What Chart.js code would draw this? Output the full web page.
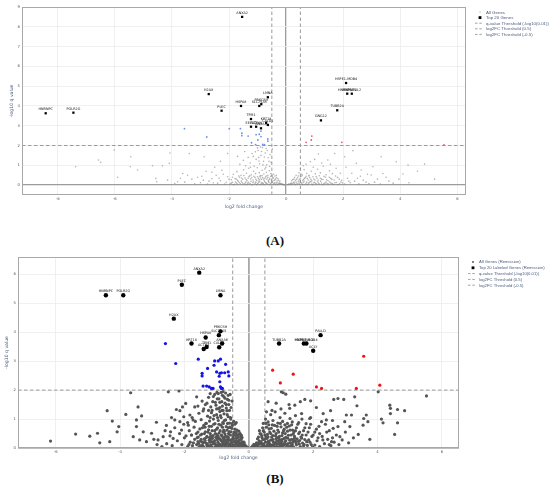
<!DOCTYPE html>
<html>
<head>
<meta charset="utf-8">
<script src="https://cdn.jsdelivr.net/npm/chart.js@4.4.1/dist/chart.umd.min.js"></script>
<style>
  body { margin: 0; background: #fff; width: 550px; height: 493px; position: relative; overflow: hidden; }
  .wrap { position: absolute; left: 0; width: 550px; height: 216px; }
  .tag { position: absolute; left: 0; width: 550px; text-align: center; font: bold 13px "Liberation Serif", serif; color: #111; }
</style>
</head>
<body>
<div class="wrap" style="top:0"><canvas id="chartA" width="550" height="216"></canvas></div>
<div class="tag" style="top:233px">(A)</div>
<div class="wrap" style="top:250px"><canvas id="chartB" width="550" height="216"></canvas></div>
<div class="tag" style="top:471px">(B)</div>
<script>
// ---- thresholds ----
const qThreshold = 2;      // -log10(0.01)
const fcThreshold = 0.5;

// ---- panel A ----
const xRangeA = [-9.25, 6.3];
const yRangeA = [-0.5, 9];
const xTicksA = [-8, -6, -4, -2, 0, 2, 4, 6];
const yTicksA = [0, 1, 2, 3, 4, 5, 6, 7, 8, 9];

const topGenesA = ["ANXA2", "HNRNPC", "POLR2G", "H2AX", "PLEC", "HSPA8", "LMNA", "PRKCSH", "SLC25A5", "TPM1",
  "EEF1D", "ACTN4", "ANXA6", "KRT18", "CALD1", "HSPE1-MOB4", "HNRNPUL1", "HNRNPUL2", "TUBB2A", "GNG12"];
const topFcA = [-1.54, -8.42, -7.45, -2.71, -2.26, -1.58, -0.64, -0.87, -0.94, -1.23,
  -1.23, -1.05, -0.88, -0.7, -0.64, 2.1, 2.14, 2.3, 1.79, 1.22];
const topQA = [8.5, 3.63, 3.66, 4.6, 3.76, 4.0, 4.44, 4.09, 4.0, 3.34,
  2.95, 2.95, 2.87, 3.15, 3.04, 5.16, 4.62, 4.62, 3.78, 3.27];

const downA = [[-3.56,2.85],[-2.78,2.43],[-1.99,2.85],[-1.6,2.85],[-1.55,2.62],[-1.55,2.5],[-1.33,2.48],[-1.21,2.14],
  [-1.07,2.05],[-1.05,2.55],[-0.94,2.57],[-0.99,2.28],[-0.88,2.73],[-0.82,2.06],[-0.76,2.04],[-0.64,2.33],[-0.64,2.22],[-0.88,2.45]];
const upA = [[0.7,2.16],[0.9,2.48],[0.88,2.28],[1.95,2.16],[5.53,2.03]];

// background genes, sparse outer points
const allA = [
  [-6.57,1.27],[-6.49,1.15],[-7.37,0.93],[-5.44,1.43],[-5.46,0.93],[-5.2,0.76],[-4.68,0.98],[-4.33,0.98],[-4.09,1.1],[-3.62,0.59],
  [-3.39,1.6],[-2.87,1.43],[-4.53,0.17],[-4.56,0.34],[-4.15,0.25],[-3.8,0.17],[-6.02,1.77],[-4.07,1.62],[-5.9,0.4],[-3.3,0.3],
  [-3.0,0.12],[-2.95,0.45],[-2.7,0.2],[-2.6,0.65],[-2.5,0.9],[-2.4,0.1],[-2.35,0.35],[-2.3,1.2],[-2.2,0.55],[-2.15,0.05],[-2.05,1.6],[-2.0,0.3],
  [1.13,1.57],[2.34,1.74],[3.33,1.43],[3.86,1.18],[4.85,1.06],[4.27,1.01],[4.09,0.56],[3.39,0.59],[3.04,0.93],[2.46,1.1],
  [2.05,1.43],[1.46,1.27],[2.63,0.76],[2.98,0.51],[1.7,1.6],[3.6,0.2],[3.2,0.3],[2.8,0.15],[2.5,0.35],[2.3,0.6],[2.2,0.2],[2.1,0.9],[5.2,0.3],[4.6,0.7],
  [-3.9,0.08],[-3.7,0.35],[-3.55,0.15],[-3.45,0.5],[-3.2,0.06],[-3.1,0.4],[-2.9,0.25],[-2.8,0.7],[-2.75,0.05],[-2.6,0.32],
  [-2.55,0.12],[-2.45,0.5],[-2.3,0.22],[-2.25,0.75],[-2.1,0.14],[-2.05,0.42],
  [2.05,0.05],[2.15,0.35],[2.25,0.12],[2.4,0.2],[2.55,0.06],[2.6,0.45],[2.7,0.25],[2.85,0.55],[2.9,0.08],[3.1,0.15],
  [3.3,0.05],[3.5,0.4],[3.75,0.1],[3.95,0.3],[4.3,0.12]
];
// background genes, dense core around zero
const coreA = [
  [-1.96,0.06],[-1.88,0.14],[-1.81,0.04],[-1.74,0.11],[-1.67,0.18],[-1.6,0.07],[-1.54,0.13],[-1.47,0.03],[-1.41,0.16],[-1.35,0.09],
  [-1.29,0.05],[-1.23,0.19],[-1.17,0.12],[-1.11,0.04],[-1.06,0.15],[-1.0,0.08],[-0.95,0.2],[-0.9,0.03],[-0.85,0.13],[-0.8,0.07],
  [-0.75,0.17],[-0.7,0.1],[-0.65,0.04],[-0.6,0.14],[-0.55,0.08],[-0.5,0.19],[-0.45,0.05],[-0.4,0.12],[-0.35,0.09],[-0.3,0.03],
  [-0.25,0.1],[-0.2,0.06],[-0.15,0.04],[-0.1,0.02],[-0.06,0.01],
  [-1.92,0.1],[-1.84,0.02],[-1.77,0.16],[-1.71,0.05],[-1.64,0.12],[-1.57,0.2],[-1.51,0.06],[-1.44,0.1],[-1.38,0.02],[-1.32,0.14],
  [-1.26,0.08],[-1.2,0.01],[-1.14,0.17],[-1.08,0.09],[-1.03,0.02],[-0.97,0.12],[-0.92,0.16],[-0.87,0.06],[-0.82,0.1],[-0.77,0.02],
  [-0.72,0.13],[-0.67,0.07],[-0.62,0.18],[-0.57,0.02],[-0.52,0.11],[-0.47,0.15],[-0.42,0.07],[-0.37,0.02],[-0.32,0.13],[-0.27,0.05],
  [-0.22,0.1],[-0.17,0.07],[-0.12,0.05],
  [-1.92,0.27],[-1.79,0.33],[-1.7,0.24],[-1.63,0.4],[-1.52,0.29],[-1.44,0.36],[-1.37,0.22],[-1.3,0.43],[-1.24,0.31],[-1.16,0.26],
  [-1.09,0.39],[-1.03,0.23],[-0.97,0.34],[-0.92,0.44],[-0.87,0.28],[-0.82,0.37],[-0.77,0.24],[-0.72,0.41],[-0.67,0.3],[-0.62,0.22],
  [-0.57,0.35],[-0.52,0.27],[-0.47,0.4],[-0.42,0.23],[-0.37,0.31],[-0.32,0.21],[-0.27,0.25],[-0.22,0.2],
  [-1.88,0.4],[-1.75,0.3],[-1.66,0.46],[-1.56,0.36],[-1.48,0.48],[-1.4,0.28],[-1.33,0.35],[-1.27,0.47],[-1.2,0.38],[-1.13,0.45],
  [-1.06,0.29],[-1.0,0.42],[-0.94,0.27],[-0.89,0.36],[-0.84,0.47],[-0.79,0.31],[-0.74,0.35],[-0.69,0.46],[-0.64,0.39],[-0.59,0.28],
  [-0.54,0.45],[-0.49,0.32],[-0.44,0.36],[-0.39,0.27],[-0.34,0.38],[-0.29,0.33],
  [-1.85,0.55],[-1.72,0.68],[-1.58,0.5],[-1.49,0.77],[-1.39,0.6],[-1.31,0.85],[-1.22,0.52],[-1.14,0.7],[-1.07,0.58],[-1.01,0.88],
  [-0.94,0.63],[-0.89,0.48],[-0.84,0.75],[-0.78,0.56],[-0.74,0.82],[-0.69,0.65],[-0.64,0.5],[-0.59,0.72],[-0.54,0.59],[-0.49,0.47],
  [-0.44,0.55],[-0.39,0.46],[-0.34,0.5],
  [-1.62,1.05],[-1.5,1.25],[-1.42,0.98],[-1.33,1.4],[-1.26,1.12],[-1.19,1.6],[-1.12,0.95],[-1.05,1.3],[-0.98,1.75],[-0.93,1.08],
  [-0.88,1.5],[-0.83,1.9],[-0.79,1.2],[-0.73,1.62],[-0.68,1.02],[-0.63,1.38],[-0.58,0.94],[-0.53,1.15],[-0.48,1.82],[-0.9,1.92],
  [-1.0,1.88],[-0.7,1.85],[-1.45,1.7],[-1.7,1.45],
  [-1.15,1.45],[-1.08,1.68],[-0.96,1.4],[-0.86,1.7],[-0.76,1.42],[-0.66,1.75],[-0.6,1.2],[-0.56,1.55],[-0.95,1.22],[-1.25,0.9],
  [-0.81,1.02],[-0.71,0.9],
  [0.06,0.02],[0.1,0.05],[0.15,0.08],[0.2,0.03],[0.25,0.12],[0.3,0.06],[0.35,0.16],[0.4,0.04],[0.45,0.1],[0.5,0.18],
  [0.55,0.07],[0.6,0.13],[0.66,0.03],[0.72,0.15],[0.78,0.09],[0.84,0.19],[0.9,0.05],[0.96,0.12],[1.03,0.08],[1.1,0.17],
  [1.17,0.04],[1.24,0.11],[1.32,0.07],[1.4,0.15],[1.48,0.05],[1.57,0.1],[1.66,0.03],[1.76,0.13],[1.87,0.07],[1.98,0.11],
  [0.08,0.04],[0.13,0.02],[0.18,0.1],[0.23,0.07],[0.28,0.15],[0.33,0.02],[0.38,0.09],[0.43,0.2],[0.48,0.04],[0.53,0.12],
  [0.58,0.02],[0.63,0.19],[0.69,0.08],[0.75,0.02],[0.81,0.12],[0.87,0.16],[0.93,0.02],[1.0,0.14],[1.07,0.05],[1.14,0.1],
  [1.21,0.2],[1.28,0.02],[1.36,0.1],[1.44,0.07],[1.53,0.16],[1.62,0.08],[1.71,0.12],[1.81,0.02],[1.92,0.15],
  [0.2,0.22],[0.27,0.3],[0.33,0.24],[0.4,0.37],[0.46,0.27],[0.52,0.42],[0.58,0.23],[0.64,0.33],[0.7,0.45],[0.77,0.26],
  [0.83,0.38],[0.9,0.22],[0.97,0.31],[1.05,0.43],[1.12,0.25],[1.2,0.35],[1.29,0.28],[1.38,0.4],[1.47,0.22],[1.56,0.34],
  [1.68,0.26],[1.8,0.39],[1.95,0.24],
  [0.23,0.28],[0.3,0.4],[0.37,0.3],[0.43,0.46],[0.49,0.33],[0.56,0.48],[0.61,0.28],[0.67,0.38],[0.74,0.34],[0.8,0.46],
  [0.87,0.29],[0.94,0.42],[1.01,0.26],[1.08,0.36],[1.16,0.47],[1.24,0.3],[1.33,0.44],[1.42,0.27],[1.51,0.4],[1.6,0.3],
  [1.73,0.46],[1.86,0.3],
  [0.35,0.5],[0.45,0.62],[0.55,0.55],[0.63,0.78],[0.72,0.6],[0.8,0.5],[0.88,0.7],[0.95,0.9],[1.02,0.57],[1.1,0.8],
  [1.2,0.62],[1.3,0.95],[1.4,0.52],[1.52,0.72],[1.62,0.58],[1.75,0.85],[1.9,0.6],[0.7,1.05],[0.85,1.18],[1.0,1.3],
  [1.25,1.12],[0.6,0.98],[1.55,1.05],[0.5,0.85]
];

// ---- panel B (remission) ----
const xRangeB = [-7.17, 6.53];
const yRangeB = [0, 6.6];
const xTicksB = [-6, -4, -2, 0, 2, 4, 6];
const yTicksB = [0, 1, 2, 3, 4, 5, 6];

const topGenesB = ["ANXA2", "PLEC", "HNRNPC", "POLR2G", "LMNA", "H2AX", "PRKCSH", "SLC25A5", "HSPA8", "KRT18",
  "ANXA6", "CALD1", "TPM1", "ACTN4", "TUBB2A", "HNRNPUL1", "HSPE1-MOB4", "PALLD", "ACLY"];
const topFcB = [-1.54, -2.08, -4.44, -3.9, -0.88, -2.33, -0.88, -0.93, -1.34, -1.78,
  -0.83, -0.92, -1.31, -1.4, 0.94, 1.71, 1.79, 2.23, 2.0];
const topQB = [6.06, 5.64, 5.28, 5.28, 5.28, 4.47, 4.03, 3.9, 3.82, 3.61,
  3.61, 3.48, 3.49, 3.42, 3.61, 3.61, 3.61, 3.9, 3.36];

const downB = [[-2.59,3.61],[-2.27,2.92],[-1.57,3.07],[-1.45,2.58],[-1.45,2.49],[-1.28,2.75],[-1.42,2.14],[-1.31,2.14],
  [-1.16,2.06],[-1.06,3.01],[-0.95,3.01],[-0.88,3.07],[-1.08,2.86],[-1.0,2.63],[-0.9,2.58],[-0.85,2.6],[-0.92,2.48],
  [-0.9,2.29],[-0.88,2.11],[-0.82,2.06],[-0.85,2.06],[-0.72,2.89],[-0.64,2.63],[-0.62,2.49],[-0.75,2.6],[-1.11,2.06],[-1.23,2.11]];
const upB = [[0.74,2.69],[0.98,2.25],[1.38,2.55],[2.1,2.11],[2.26,2.06],[3.34,2.06],[3.57,3.17],[4.07,2.17]];

// background genes, sparse outer points
const allB = [
  [-6.16,0.24],[-5.38,0.48],[-4.94,0.41],[-4.7,0.51],[-4.63,0.18],[-4.4,1.29],[-4.32,0.22],[-4.24,0.93],[-4.09,0.56],[-4.04,0.74],
  [-3.82,1.16],[-3.67,1.91],[-3.59,0.39],[-3.49,0.97],[-3.44,1.42],[-3.39,0.28],[-3.33,1.11],[-3.49,0.74],[-3.28,0.56],[-3.18,0.22],
  [-3.02,0.51],[-2.87,0.89],[-2.82,0.28],[-2.66,0.39],[-2.56,0.78],[-2.5,1.94],[-2.43,0.56],[-2.35,0.33],[-2.3,0.97],[-2.25,1.33],
  [-2.17,1.97],[-2.14,1.29],[-2.14,0.91],[-2.09,0.62],[-2.06,1.42],[-2.02,1.08],[-1.96,1.54],[-1.88,0.79],[-1.83,1.14],[-1.78,0.45],
  [-1.73,0.97],[-1.68,1.42],[-1.62,1.77],
  [-2.55,0.15],[-2.45,0.42],[-2.38,0.08],[-2.3,0.7],[-2.22,0.25],[-2.15,0.5],[-2.08,0.12],[-2.02,0.82],[-2.0,0.35],[-2.6,0.6],
  [-2.4,1.05],[-2.7,0.05],[-2.85,0.12],[-2.95,0.3],
  [5.52,1.8],[4.02,1.94],[4.38,1.48],[4.4,1.37],[4.62,1.33],[4.84,1.29],[4.12,1.0],[4.17,0.87],[4.4,1.19],[4.62,0.87],
  [4.53,0.47],[3.76,0.3],[3.7,0.91],[3.65,1.14],[3.57,1.02],[3.36,1.46],[3.29,1.77],[2.95,1.68],[2.77,1.71],[2.64,1.68],
  [2.54,1.29],[2.1,1.4],[1.92,1.63],[1.74,1.68],[1.6,1.6],[1.07,1.91],[1.15,1.86],[1.01,1.94],[3.4,0.47],[3.55,0.79],
  [3.14,0.74],[3.03,1.14],[3.19,1.14],[2.83,0.39],[2.57,0.22],[2.62,0.68],[2.41,0.97],[2.26,0.91],[2.31,1.19],[1.89,1.02],
  [1.43,1.48],[1.27,1.37],[1.64,1.19],[2.98,0.91],[2.77,0.74],
  [2.05,0.1],[2.12,0.25],[2.2,0.05],[2.28,0.4],[2.35,0.15],[2.45,0.3],[2.5,0.6],[2.55,0.08],[2.65,0.2],[2.72,0.45],
  [2.8,0.12],[2.9,0.28],[3.0,0.55],[3.1,0.18],[3.25,0.35],[2.18,0.75],[2.38,0.82],[2.6,0.95],
  [2.1,0.65],[2.2,0.5],[2.3,0.28],[2.42,0.55],[2.5,0.12],[2.6,0.35]
];
// background genes, dense core around zero
const coreB = [
  [-1.9,0.05],[-1.82,0.2],[-1.75,0.08],[-1.68,0.3],[-1.62,0.12],[-1.55,0.03],[-1.5,0.24],[-1.44,0.1],[-1.38,0.32],[-1.33,0.17],
  [-1.28,0.04],[-1.23,0.27],[-1.18,0.11],[-1.13,0.34],[-1.08,0.2],[-1.03,0.06],[-0.98,0.29],[-0.93,0.14],[-0.88,0.02],[-0.84,0.23],
  [-0.79,0.33],[-0.75,0.09],[-0.71,0.19],[-0.66,0.3],[-0.62,0.05],[-0.58,0.15],[-0.54,0.26],[-0.5,0.1],[-0.46,0.2],[-0.42,0.03],
  [-0.38,0.14],[-0.34,0.25],[-0.3,0.07],[-0.26,0.17],[-0.22,0.04],[-0.18,0.11],[-0.14,0.06],[-0.1,0.02],[-0.06,0.01],
  [-1.86,0.12],[-1.72,0.18],[-1.58,0.22],[-1.47,0.05],[-1.41,0.19],[-1.3,0.09],[-1.2,0.02],[-1.15,0.22],[-1.05,0.14],[-0.95,0.07],
  [-0.9,0.31],[-0.82,0.12],[-0.77,0.25],[-0.68,0.13],[-0.6,0.28],[-0.52,0.03],[-0.48,0.33],[-0.4,0.22],[-0.36,0.05],[-0.32,0.16],
  [-0.28,0.28],[-0.24,0.1],[-0.2,0.21],[-0.16,0.16],
  [-1.6,0.36],[-1.56,0.16],[-1.52,0.08],[-1.48,0.3],[-1.44,0.2],[-1.4,0.04],[-1.36,0.26],[-1.32,0.36],[-1.29,0.14],[-1.25,0.07],
  [-1.21,0.2],[-1.17,0.31],[-1.14,0.04],[-1.1,0.15],[-1.06,0.26],[-1.02,0.37],[-1.0,0.1],[-0.96,0.2],[-0.92,0.33],[-0.89,0.12],
  [-0.86,0.27],[-0.83,0.05],[-0.8,0.18],[-0.77,0.36],[-0.74,0.14],[-0.72,0.28],[-0.69,0.04],[-0.66,0.21],[-0.64,0.36],[-0.61,0.12],
  [-0.58,0.27],[-0.56,0.06],[-0.53,0.18],[-0.5,0.32],[-0.47,0.08],[-0.44,0.25],[-0.41,0.13],[-0.39,0.33],[-0.36,0.2],[-0.33,0.06],
  [-0.3,0.26],[-0.27,0.12],[-0.24,0.3],[-0.21,0.14],[-0.18,0.05],[-0.15,0.2],[-0.12,0.11],[-0.09,0.06],[-0.04,0.03],
  [-1.95,0.42],[-1.85,0.6],[-1.78,0.45],[-1.7,0.72],[-1.63,0.5],[-1.57,0.38],[-1.52,0.66],[-1.46,0.48],[-1.4,0.78],[-1.35,0.56],
  [-1.3,0.4],[-1.25,0.63],[-1.2,0.5],[-1.16,0.75],[-1.11,0.43],[-1.06,0.6],[-1.01,0.37],[-0.97,0.7],[-0.92,0.52],[-0.87,0.79],
  [-0.83,0.41],[-0.78,0.62],[-0.74,0.48],[-0.7,0.74],[-0.65,0.39],[-0.61,0.57],[-0.57,0.45],[-0.53,0.68],[-0.49,0.38],[-0.45,0.55],
  [-0.41,0.43],[-0.37,0.62],[-0.33,0.37],[-0.29,0.48],[-0.25,0.4],[-0.21,0.36],[-1.36,0.72],[-1.0,0.47],[-0.8,0.55],[-0.63,0.7],
  [-1.22,0.36],[-0.95,0.38],
  [-1.58,0.55],[-1.5,0.45],[-1.44,0.7],[-1.38,0.5],[-1.32,0.85],[-1.27,0.55],[-1.23,0.75],[-1.18,0.42],[-1.14,0.6],[-1.09,0.82],
  [-1.04,0.5],[-1.0,0.65],[-0.96,0.43],[-0.93,0.82],[-0.89,0.6],[-0.85,0.45],[-0.82,0.72],[-0.79,0.85],[-0.76,0.57],[-0.72,0.4],
  [-0.68,0.62],[-0.66,0.85],[-0.63,0.5],[-0.59,0.72],[-0.55,0.56],[-0.51,0.78],[-0.47,0.47],[-0.43,0.65],[-0.39,0.53],[-0.35,0.45],
  [-0.31,0.58],[-0.27,0.5],[-0.23,0.44],
  [-1.9,0.88],[-1.76,1.05],[-1.66,0.92],[-1.55,1.2],[-1.48,0.98],[-1.42,1.28],[-1.34,0.85],[-1.28,1.1],[-1.22,0.93],[-1.16,1.22],
  [-1.1,1.0],[-1.05,0.84],[-1.0,1.15],[-0.95,0.95],[-0.9,1.26],[-0.86,1.05],[-0.81,0.88],[-0.77,1.18],[-0.72,0.97],[-0.68,1.29],
  [-0.64,1.08],[-0.6,0.86],[-0.56,1.0],[-0.52,0.84],[-0.47,0.92],[-0.43,0.82],[-0.39,0.88],[-1.25,1.3],[-0.84,1.3],
  [-1.2,1.05],[-1.14,1.3],[-1.08,1.12],[-1.04,1.58],[-1.0,1.35],[-0.97,1.05],[-0.93,1.7],[-0.9,1.4],[-0.88,1.12],[-0.84,1.6],
  [-0.8,1.3],[-0.76,0.95],[-0.74,1.72],[-0.7,1.5],[-0.67,1.15],[-0.64,1.82],[-0.6,1.3],[-0.57,1.05],[-1.1,1.78],[-0.99,1.92],
  [-0.82,1.82],[-0.62,1.65],[-1.3,1.55],[-1.2,1.88],
  [-1.58,1.45],[-1.45,1.62],[-1.35,1.5],[-1.25,1.75],[-1.18,1.42],[-1.12,1.6],[-1.06,1.85],[-1.02,1.48],[-0.98,1.7],[-0.94,1.36],
  [-0.9,1.58],[-0.86,1.92],[-0.82,1.45],[-0.78,1.78],[-0.74,1.55],[-0.7,1.38],[-0.66,1.68],[-0.62,1.5],[-0.58,1.85],[-0.55,1.4],
  [-0.52,1.62],[-0.8,1.95],[-0.95,1.88],[-0.72,1.9],[-1.4,1.35],
  [0.08,0.02],[0.12,0.07],[0.16,0.13],[0.2,0.04],[0.24,0.18],[0.28,0.09],[0.32,0.25],[0.36,0.03],[0.4,0.15],[0.44,0.29],
  [0.48,0.08],[0.52,0.2],[0.56,0.33],[0.6,0.05],[0.64,0.16],[0.68,0.27],[0.72,0.1],[0.76,0.22],[0.8,0.02],[0.84,0.31],
  [0.88,0.13],[0.92,0.24],[0.96,0.06],[1.0,0.18],[1.04,0.3],[1.08,0.09],[1.12,0.21],[1.17,0.03],[1.22,0.15],[1.27,0.27],
  [1.32,0.08],[1.37,0.2],[1.42,0.33],[1.48,0.11],[1.54,0.23],[1.6,0.05],[1.67,0.17],[1.74,0.29],[1.82,0.09],[1.9,0.2],[1.98,0.04],
  [0.18,0.1],[0.26,0.05],[0.34,0.14],[0.42,0.06],[0.5,0.3],[0.58,0.12],[0.66,0.04],[0.74,0.3],[0.82,0.17],[0.9,0.03],
  [0.98,0.27],[1.06,0.14],[1.15,0.25],[1.25,0.05],[1.35,0.12],[1.45,0.24],[1.57,0.14],[1.7,0.07],[1.86,0.28],
  [0.14,0.03],[0.22,0.12],[0.3,0.17],[0.38,0.22],[0.46,0.14],[0.54,0.05],[0.62,0.24],[0.7,0.03],[0.78,0.14],[0.86,0.05],
  [0.94,0.16],[1.02,0.08],[1.1,0.33],[1.19,0.12],[1.29,0.18],[1.39,0.04],[1.5,0.32],[1.58,0.26],[1.64,0.34],[1.72,0.12],
  [1.8,0.22],[1.94,0.12],[0.41,0.36],[0.53,0.38],[0.71,0.38],[0.79,0.06],[0.93,0.33],[1.02,0.24],[1.21,0.34],[1.33,0.3],
  [1.47,0.17],[0.66,0.12],[1.13,0.13],[0.6,0.22],[0.98,0.11],[1.4,0.26],[0.27,0.32],[0.87,0.23],
  [0.3,0.38],[0.35,0.5],[0.4,0.42],[0.45,0.6],[0.5,0.45],[0.55,0.72],[0.6,0.38],[0.65,0.55],[0.7,0.68],[0.75,0.43],
  [0.8,0.78],[0.85,0.5],[0.9,0.62],[0.95,0.4],[1.0,0.73],[1.05,0.52],[1.1,0.65],[1.15,0.37],[1.2,0.58],[1.26,0.76],
  [1.31,0.45],[1.36,0.62],[1.42,0.4],[1.48,0.7],[1.55,0.5],[1.62,0.38],[1.7,0.6],[1.78,0.45],[1.88,0.7],[1.96,0.4],
  [2.05,0.55],[2.15,0.35],[0.62,0.8],[0.88,0.36],[1.12,0.8],[1.4,0.55],
  [0.33,0.6],[0.38,0.48],[0.43,0.7],[0.48,0.55],[0.53,0.85],[0.58,0.47],[0.63,0.66],[0.68,0.5],[0.73,0.8],[0.78,0.58],
  [0.83,0.42],[0.88,0.75],[0.93,0.55],[0.98,0.85],[1.03,0.43],[1.08,0.6],[1.13,0.5],[1.18,0.72],[1.23,0.44],[1.28,0.62],
  [1.33,0.8],[1.38,0.48],[1.45,0.6],[1.52,0.82],[1.58,0.55],[1.66,0.45],[1.74,0.7],[1.84,0.55],[1.92,0.82],[2.0,0.45],
  [0.45,0.85],[0.52,1.0],[0.6,0.9],[0.68,1.15],[0.75,0.95],[0.82,1.25],[0.9,0.86],[0.97,1.05],[1.05,0.92],[1.12,1.2],
  [1.2,0.85],[1.28,1.02],[1.35,0.9],[1.45,1.12],[1.55,0.88],[1.65,1.0],[1.78,0.84],[1.92,1.05],[0.72,1.3],[1.0,1.35],
  [1.25,1.5],[0.55,1.25],[0.85,1.55],[0.6,1.6]
];

const legendText = "#4b5b7d";
const toXY = arr => arr.map(p => ({ x: p[0], y: p[1] }));

// frame, gene labels and legend drawn on top of chart.js output
const volcanoExtras = {
  id: "volcanoExtras",
  afterDatasetsDraw(chart, args, opts) {
    const ctx = chart.ctx;
    const area = chart.chartArea;
    ctx.save();
    ctx.strokeStyle = "#a8a8a8";
    ctx.lineWidth = 1;
    ctx.strokeRect(area.left + 0.5, area.top + 0.5, area.width - 1, area.height - 1);

    const di = chart.data.datasets.findIndex(d => d.geneNames);
    const names = chart.data.datasets[di].geneNames;
    ctx.font = opts.labelFont;
    ctx.fillStyle = "#111";
    ctx.textAlign = "center";
    ctx.textBaseline = "bottom";
    chart.getDatasetMeta(di).data.forEach((pt, i) => {
      ctx.fillText(names[i], pt.x, pt.y - opts.labelGap);
    });
    ctx.restore();
  },
  afterDraw(chart, args, opts) {
    const ctx = chart.ctx;
    const area = chart.chartArea;
    const x0 = area.right + 14;
    let y = area.top + 5;
    ctx.save();
    ctx.font = opts.legendFont;
    ctx.textBaseline = "middle";
    opts.legend.forEach(item => {
      if (item.kind === "dash") {
        ctx.strokeStyle = "#8a8a8a";
        ctx.lineWidth = 0.8;
        ctx.setLineDash([2.5, 1.8]);
        ctx.beginPath();
        ctx.moveTo(x0 - 5, y);
        ctx.lineTo(x0 + 3, y);
        ctx.stroke();
        ctx.setLineDash([]);
      } else if (item.kind === "square") {
        ctx.fillStyle = "#000";
        ctx.fillRect(x0 - 1.4, y - 1.4, 2.8, 2.8);
      } else {
        ctx.fillStyle = item.color;
        ctx.beginPath();
        ctx.arc(x0, y, item.size, 0, Math.PI * 2);
        ctx.fill();
      }
      ctx.fillStyle = legendText;
      ctx.fillText(item.text, x0 + 6, y + 0.3);
      y += opts.legendStep;
    });
    ctx.restore();
  }
};

function volcano(canvasId, p) {
  const [xMin, xMax] = p.xRange;
  const [yMin, yMax] = p.yRange;
  const dashed = (data, label) => ({
    type: "line", label, data, borderColor: "#9a9a9a", borderWidth: 1, borderDash: [3.5, 2.5],
    pointRadius: 0, fill: false, order: 5
  });

  const axisTitle = (text, pad) => ({
    display: true, text, color: legendText, padding: pad,
    font: { family: "DejaVu Sans", size: 4.6 }
  });
  const gridOpts = {
    color: c => (c.tick && c.tick.value === 0 ? p.zeroColor : "#ececec"),
    lineWidth: c => (c.tick && c.tick.value === 0 ? p.zeroWidth : 0.8),
    drawTicks: false
  };
  const tickOpts = { color: "#555", padding: 2, autoSkip: false, maxRotation: 0, font: { family: "DejaVu Sans", size: 3.8 } };

  return new Chart(document.getElementById(canvasId), {
    type: "scatter",
    data: {
      datasets: [
        {
          label: "top", geneNames: p.genes,
          data: p.fc.map((v, i) => ({ x: v, y: p.q[i] })),
          pointStyle: p.topStyle, pointRadius: p.topRadius, backgroundColor: "#000", borderWidth: 0, order: 0
        },
        { label: "down", data: toXY(p.down), pointRadius: p.sigRadius, backgroundColor: p.downColor, borderWidth: 0, order: 1 },
        { label: "up", data: toXY(p.up), pointRadius: p.sigRadius, backgroundColor: p.upColor, borderWidth: 0, order: 1 },
        { label: "all", data: toXY(p.all.concat(p.core)), pointRadius: p.allRadius, backgroundColor: p.allColor, borderWidth: 0, order: 2 },
        dashed([{ x: xMin, y: qThreshold }, { x: xMax, y: qThreshold }], "q"),
        dashed([{ x: fcThreshold, y: yMin }, { x: fcThreshold, y: yMax }], "fc+"),
        dashed([{ x: -fcThreshold, y: yMin }, { x: -fcThreshold, y: yMax }], "fc-")
      ]
    },
    options: {
      responsive: false,
      animation: false,
      devicePixelRatio: 1,
      events: [],
      layout: { padding: p.padding },
      scales: {
        x: {
          type: "linear", min: xMin, max: xMax,
          afterBuildTicks: s => { s.ticks = p.xTicks.map(v => ({ value: v })); },
          afterFit: s => { s.height = p.xAxisHeight; },
          grid: gridOpts, border: { display: false }, ticks: tickOpts,
          title: axisTitle("log2 fold change", { top: 0, bottom: p.xTitlePad })
        },
        y: {
          type: "linear", min: yMin, max: yMax,
          afterBuildTicks: s => { s.ticks = p.yTicks.map(v => ({ value: v })); },
          afterFit: s => { s.width = p.yAxisWidth; },
          grid: gridOpts, border: { display: false }, ticks: tickOpts,
          title: axisTitle("-log10 q value", { top: p.yTitlePad, bottom: 0 })
        }
      },
      plugins: {
        legend: { display: false },
        tooltip: { enabled: false },
        volcanoExtras: {
          labelFont: "3.4px 'DejaVu Sans'", labelGap: 2.2,
          legend: p.legend, legendStep: p.legendStep, legendFont: p.legendFont
        }
      }
    },
    plugins: [volcanoExtras]
  });
}

volcano("chartA", {
  xRange: xRangeA, yRange: yRangeA, xTicks: xTicksA, yTicks: yTicksA,
  genes: topGenesA, fc: topFcA, q: topQA, down: downA, up: upA, all: allA, core: coreA,
  topStyle: "rect", topRadius: 1.6, sigRadius: 0.9, allRadius: 0.8,
  downColor: "#6d8fe6", upColor: "#ec5a70", allColor: "rgba(130,130,130,0.6)",
  zeroColor: "#9c9c9c", zeroWidth: 1.3,
  padding: { left: 0, right: 84, top: 7, bottom: 0 },
  xAxisHeight: 21, yAxisWidth: 22, xTitlePad: 6, yTitlePad: 9,
  legendStep: 5.6, legendFont: "4.4px 'Liberation Sans'",
  legend: [
    { text: "All Genes", kind: "dot", color: "#888", size: 0.6 },
    { text: "Top 20 Genes", kind: "square" },
    { text: "q-value Threshold (-log10(0.01))", kind: "dash" },
    { text: "log2FC Threshold (0.5)", kind: "dash" },
    { text: "log2FC Threshold (-0.5)", kind: "dash" }
  ]
});

volcano("chartB", {
  xRange: xRangeB, yRange: yRangeB, xTicks: xTicksB, yTicks: yTicksB,
  genes: topGenesB, fc: topFcB, q: topQB, down: downB, up: upB, all: allB, core: coreB,
  topStyle: "circle", topRadius: 2.2, sigRadius: 1.6, allRadius: 1.6,
  downColor: "#1414e8", upColor: "#f01414", allColor: "#555555",
  zeroColor: "#a8a8a8", zeroWidth: 1.8,
  padding: { left: 0, right: 91, top: 7, bottom: 0 },
  xAxisHeight: 18, yAxisWidth: 18, xTitlePad: 5, yTitlePad: 4,
  legendStep: 5.8, legendFont: "4.2px 'Liberation Sans'",
  legend: [
    { text: "All Genes (Remission)", kind: "dot", color: "#444", size: 0.9 },
    { text: "Top 20 Labeled Genes (Remission)", kind: "square" },
    { text: "q-value Threshold (-log10(0.01))", kind: "dash" },
    { text: "log2FC Threshold (0.5)", kind: "dash" },
    { text: "log2FC Threshold (-0.5)", kind: "dash" }
  ]
});
</script>
</body>
</html>
